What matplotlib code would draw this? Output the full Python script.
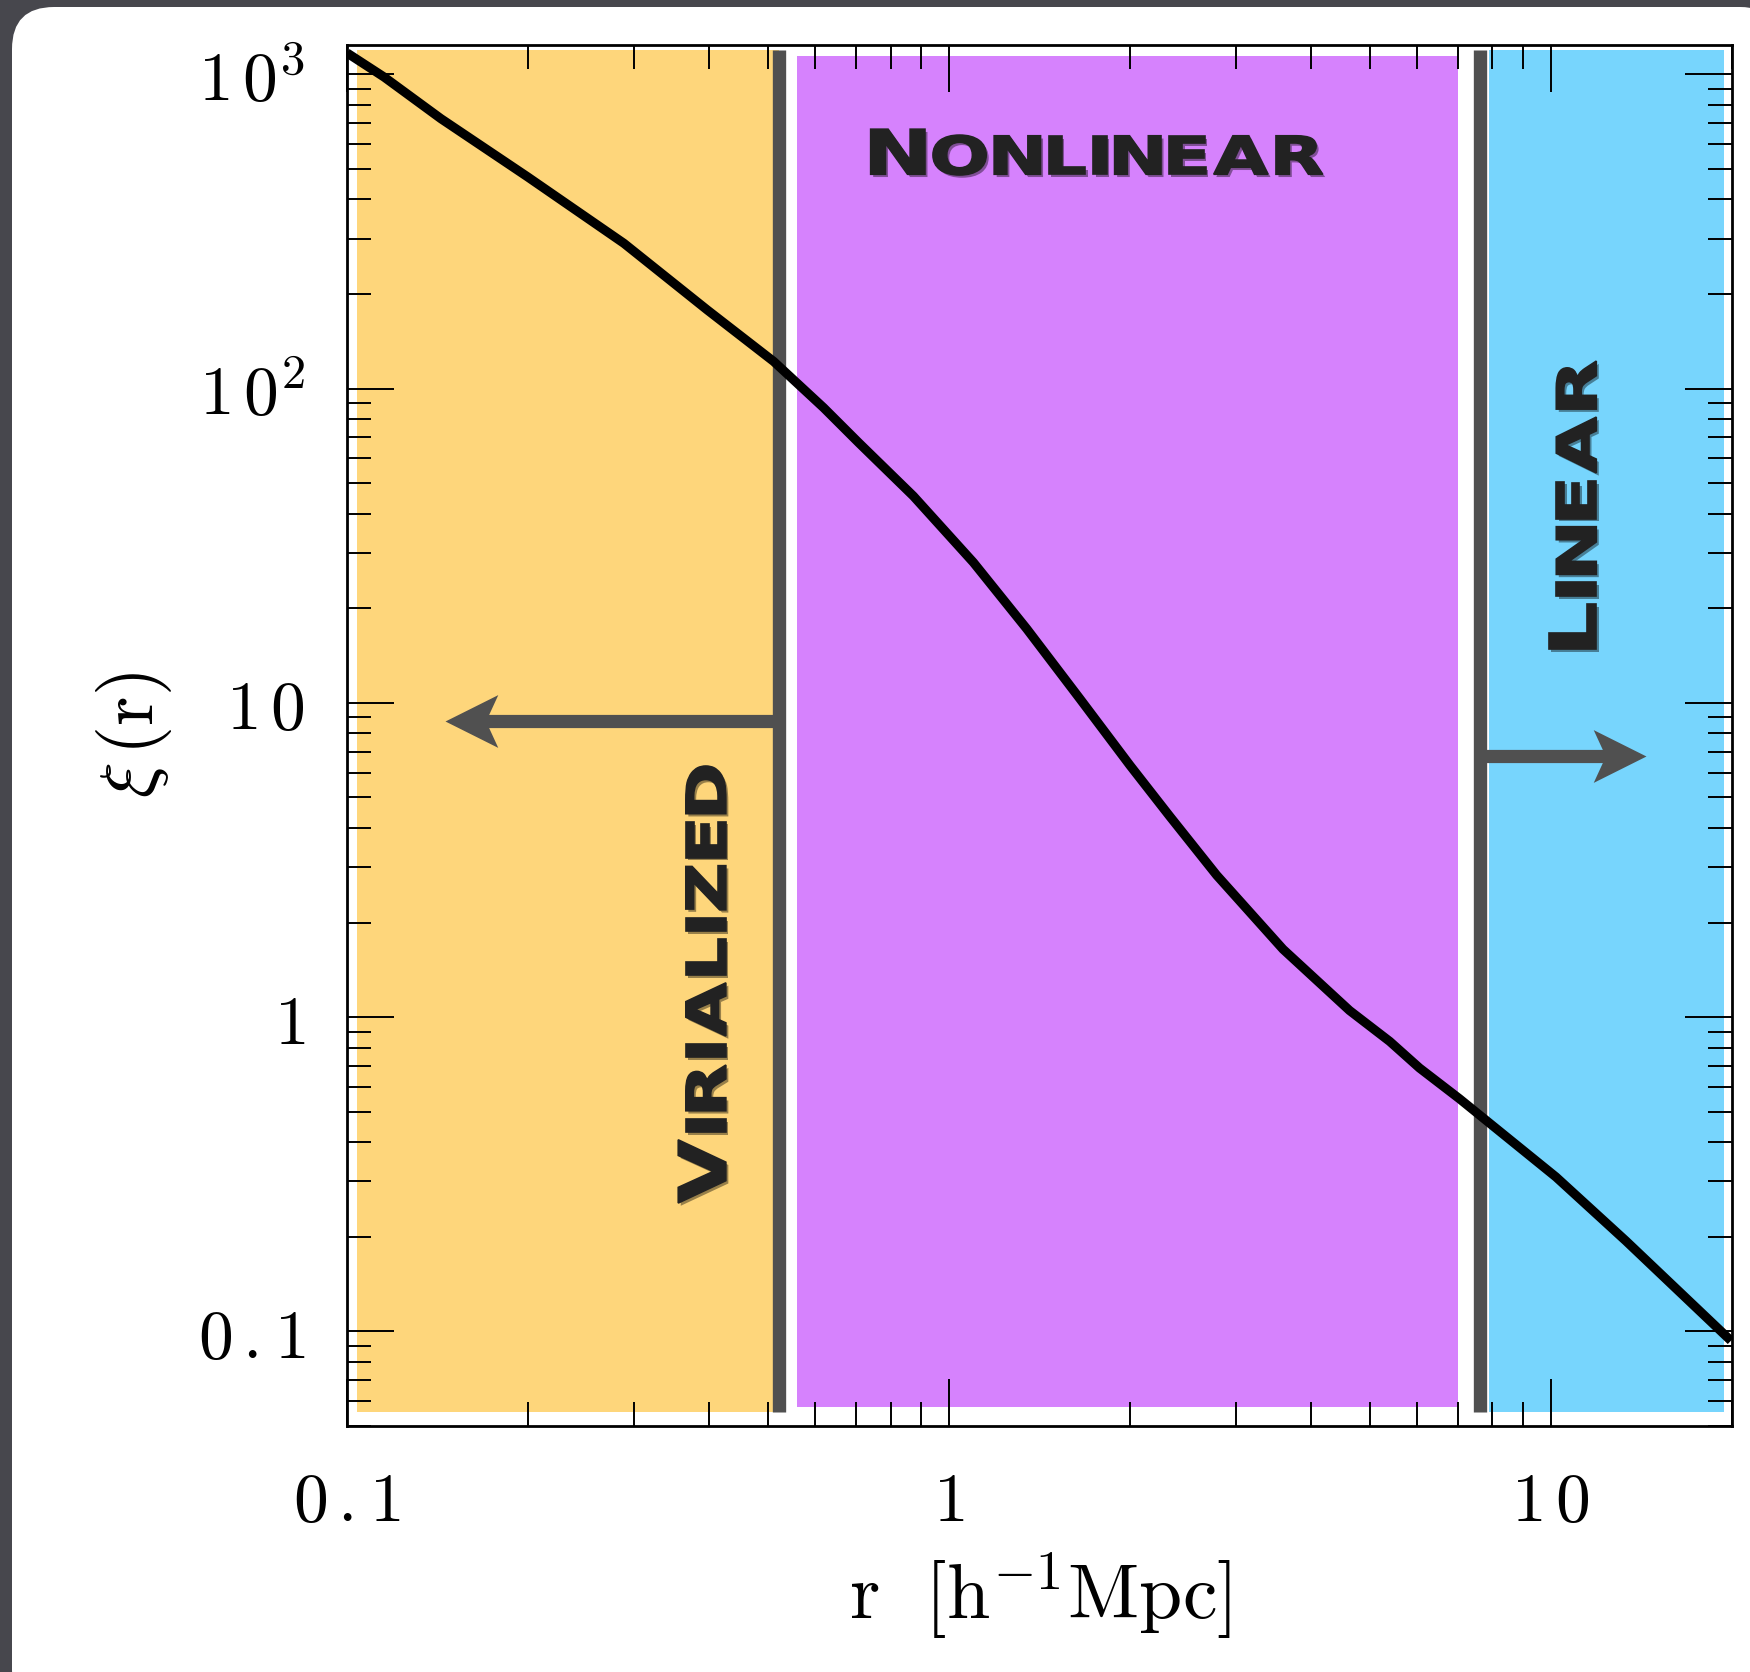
import numpy as np
import matplotlib
matplotlib.use('Agg')
import matplotlib.pyplot as plt
import matplotlib.patches as mpatches
import matplotlib.patheffects as pe
import matplotlib.transforms as mtransforms
from matplotlib.path import Path
from matplotlib.textpath import TextPath
from matplotlib.font_manager import FontProperties
from matplotlib.ticker import FixedLocator, FixedFormatter, LogLocator, NullFormatter

plt.rcParams['mathtext.fontset'] = 'cm'

# two-point correlation function xi(r)
r_vals = [0.1, 0.1153, 0.1432, 0.1995, 0.2884, 0.3967, 0.5116, 0.6194, 0.708,
          0.873, 1.098, 1.347, 1.651, 2.000, 2.329, 2.785, 3.59, 4.63, 5.40,
          6.05, 7.05, 10.2, 13.33, 19.92]
xi_vals = [1170, 980, 723, 472, 290, 178, 122, 86.9, 67.3,
           45.5, 28.0, 17.2, 10.3, 6.32, 4.35, 2.83, 1.645, 1.05, 0.837,
           0.689, 0.55, 0.31, 0.194, 0.0934]

# clustering regimes
region_names = ['VIRIALIZED', 'NONLINEAR', 'LINEAR']
region_lo = [0.104, 0.560, 7.88]
region_hi = [0.522, 7.0, 19.4]
region_bottom = [0.0555, 0.0575, 0.0553]
region_top = [1197, 1146, 1197]
region_colors = ['#FED67B', '#D682FD', '#77D5FD']

# regime boundaries and the arrows pointing away from them
boundary_r = [0.522, 7.63]
arrow_from = [0.522, 7.63]
arrow_shaft_end = [0.16, 13.1]
arrow_tip = [0.1455, 14.4]
arrow_xi = [8.77, 6.8]

# label anchors: (r, xi) of the baseline centre
label_r = [0.426, 1.76, 11.9]
label_xi = [1.27, 481, 42.6]

xtick_vals = [0.1, 1, 10]
xtick_labels = [r'$0\,.1$', r'$1$', r'$1\,0$']
ytick_vals = [0.1, 1, 10, 100, 1000]
ytick_labels = [r'$0\,.1$', r'$1$', r'$1\,0$', r'$1\,0^{2}$', r'$1\,0^{3}$']

W, H = 1750, 1672
fig = plt.figure(figsize=(W / 100, H / 100), dpi=100)
fig.patch.set_facecolor('#47474d')

# white rounded card behind the plot
card = mpatches.FancyBboxPatch((12, -40), W + 20, H - 7 + 40,
                               boxstyle='round,pad=0,rounding_size=42',
                               transform=mtransforms.IdentityTransform(),
                               facecolor='white', edgecolor='none', zorder=-1)
fig.add_artist(card)

ax = fig.add_axes([347 / W, 1 - 1426 / H, (1732 - 347) / W, (1426 - 45) / H])
ax.set_facecolor('white')
ax.set_xscale('log')
ax.set_yscale('log')
ax.set_xlim(0.1, 20)
ax.set_ylim(0.05, 1240)

for lo, hi, b, t, c in zip(region_lo, region_hi, region_bottom, region_top, region_colors):
    ax.fill_between([lo, hi], [b, b], [t, t], color=c, lw=0, zorder=1)

gray = '#505050'
for xb in boundary_r:
    ax.plot([xb, xb], [0.0553, 1197], color=gray, lw=9.6, solid_capstyle='butt', zorder=3)

# stealth-style head, tip at the origin, pointing left
head = Path([(0, 0), (1, 0.5), (0.77, 0), (1, -0.5), (0, 0)],
            [Path.MOVETO, Path.LINETO, Path.LINETO, Path.LINETO, Path.CLOSEPOLY])
head_right = Path(head.vertices * [-1, 1], head.codes)
for x0, x1, xt, yy in zip(arrow_from, arrow_shaft_end, arrow_tip, arrow_xi):
    ax.plot([x0, x1], [yy, yy], color=gray, lw=9.5, solid_capstyle='butt', zorder=3)
    ax.plot([xt], [yy], marker=head if xt < x0 else head_right, ms=76,
            color=gray, mec='none', zorder=3)

ax.plot(r_vals, xi_vals, color='black', lw=6.6, solid_joinstyle='round',
        solid_capstyle='butt', zorder=4)

ax.xaxis.set_major_locator(FixedLocator(xtick_vals))
ax.xaxis.set_major_formatter(FixedFormatter(xtick_labels))
ax.yaxis.set_major_locator(FixedLocator(ytick_vals))
ax.yaxis.set_major_formatter(FixedFormatter(ytick_labels))
for axis in (ax.xaxis, ax.yaxis):
    axis.set_minor_locator(LogLocator(base=10, subs=np.arange(2, 10), numticks=20))
    axis.set_minor_formatter(NullFormatter())
ax.tick_params(which='both', direction='in', top=True, right=True, width=1.4,
               color='black', zorder=5)
ax.tick_params(which='major', length=34, pad=30, labelsize=50)
ax.tick_params(which='minor', length=17)
for s in ax.spines.values():
    s.set_linewidth(2)
    s.set_zorder(6)

ax.text(0.5, -0.123, r'$\mathrm{r}\ \ [\mathrm{h}^{-1}\mathrm{Mpc}]$', transform=ax.transAxes,
        ha='center', va='center', fontsize=56)
ax.text(-0.154, 0.5, r'$\xi\,(\mathrm{r})$', transform=ax.transAxes, rotation=90,
        ha='center', va='center', fontsize=54)

# small-caps regime labels, letters widened to fill a given length (pixels)
caps_font = FontProperties(family='DejaVu Sans', weight='bold')
px = fig.dpi / 72
shadow = [pe.SimplePatchShadow(offset=(1.8, -2), shadow_rgbFace='black', alpha=0.4),
          pe.Normal()]


def caps_label(x, y, word, big, small, length, rotation=0, gap=8):
    sizes = [big] + [small] * (len(word) - 1)
    paths = [TextPath((0, 0), ch, size=fs * px, prop=caps_font) for ch, fs in zip(word, sizes)]
    exts = [p.get_extents() for p in paths]
    stretch = (length - gap * (len(word) - 1)) / sum(e.width for e in exts)
    pos = -length / 2
    for p, e in zip(paths, exts):
        tr = (mtransforms.Affine2D().translate(-e.x0, 0).scale(stretch, 1)
              .translate(pos, 0).rotate_deg(rotation)
              + mtransforms.ScaledTranslation(x, y, ax.transData))
        ax.add_patch(mpatches.PathPatch(p, transform=tr, facecolor='#222222',
                                        edgecolor='#222222', lw=1.2, zorder=5,
                                        path_effects=shadow))
        pos += e.width * stretch + gap


caps_label(label_r[0], label_xi[0], region_names[0], 47, 39.5, 437, rotation=90)
caps_label(label_r[1], label_xi[1], region_names[1], 44.5, 38, 452)
caps_label(label_r[2], label_xi[2], region_names[2], 47, 39.5, 288, rotation=90)

fig.savefig('out.png', dpi=100, facecolor=fig.get_facecolor())
